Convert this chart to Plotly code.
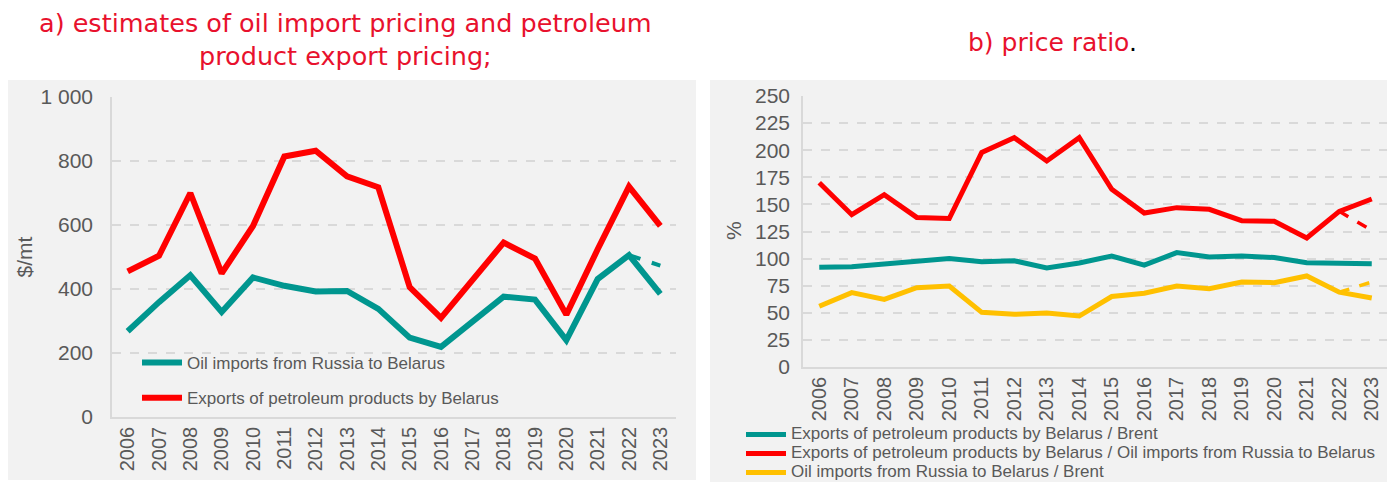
import plotly.graph_objects as go

years = [str(y) for y in range(2006, 2024)]

# Panel a) $/mt
oil_imports = [268, 359, 443, 328, 436, 410, 392, 394, 338, 248, 219, 296, 376, 367, 240, 431, 506, 385]
exports_pp = [455, 504, 700, 449, 597, 814, 832, 752, 718, 406, 310, 428, 545, 495, 320, 524, 720, 597]
oil_imports_alt = [506, 473]  # 2022-2023 alternative estimate (dashed)

# Panel b) %
ratio_exp_brent = [92, 92.5, 95, 97.5, 100, 97, 98, 91.3, 96, 102.4, 94, 105.5, 101.5, 102.4, 101, 96.2, 95.3, 95.3]
ratio_exp_imp = [170, 140.5, 159, 138, 137, 198, 211.6, 190, 211.6, 164, 142, 147, 145.5, 135, 134.4, 119, 143.6, 155]
ratio_imp_brent = [56, 68.6, 62.4, 73.2, 74.7, 50.4, 48.6, 49.8, 47, 65, 68, 74.7, 72.3, 78.4, 77.8, 84, 69, 63.7]
ratio_exp_imp_alt = [143.6, 126]
ratio_imp_brent_alt = [69, 78.4]
alt_years = ["2022", "2023"]

names_b = ["Exports of petroleum products by Belarus / Brent",
           "Exports of petroleum products by Belarus / Oil imports from Russia to Belarus",
           "Oil imports from Russia to Belarus / Brent"]

TEAL = "#00968F"
RED = "#FF0000"
YELLOW = "#FFC000"
GRAY_TXT = "#595959"
GRID = "#D9D9D9"
TITLE_RED = "#E8112D"
TICKFONT = "Liberation Sans Narrow, Liberation Sans, sans-serif"
TITLEFONT = "DejaVu Sans"

def big(t):
    return "<span style='font-size:17px'>" + t + "</span>"

fig = go.Figure()

fig.add_trace(go.Scatter(x=years, y=oil_imports, mode="lines", name="Oil imports from Russia to Belarus",
                         line=dict(color=TEAL, width=6), xaxis="x", yaxis="y", legend="legend", legendgroup="a1"))
fig.add_trace(go.Scatter(x=years, y=exports_pp, mode="lines", name="Exports of petroleum products by Belarus",
                         line=dict(color=RED, width=6), xaxis="x", yaxis="y", legend="legend", legendgroup="a2"))
fig.add_trace(go.Scatter(x=alt_years, y=oil_imports_alt, mode="lines", showlegend=False,
                         line=dict(color=TEAL, width=4, dash="dash"), xaxis="x", yaxis="y"))

fig.add_trace(go.Scatter(x=years, y=ratio_exp_brent, mode="lines", name=big(names_b[0]),
                         line=dict(color=TEAL, width=5), xaxis="x2", yaxis="y2", legend="legend2"))
fig.add_trace(go.Scatter(x=years, y=ratio_exp_imp, mode="lines", name=big(names_b[1]),
                         line=dict(color=RED, width=5), xaxis="x2", yaxis="y2", legend="legend2"))
fig.add_trace(go.Scatter(x=years, y=ratio_imp_brent, mode="lines", name=big(names_b[2]),
                         line=dict(color=YELLOW, width=5), xaxis="x2", yaxis="y2", legend="legend2"))
fig.add_trace(go.Scatter(x=alt_years, y=ratio_exp_imp_alt, mode="lines", showlegend=False,
                         line=dict(color=RED, width=3.5, dash="dash"), xaxis="x2", yaxis="y2"))
fig.add_trace(go.Scatter(x=alt_years, y=ratio_imp_brent_alt, mode="lines", showlegend=False,
                         line=dict(color=YELLOW, width=3.5, dash="dash"), xaxis="x2", yaxis="y2"))

# page body has an 8px margin, so the figure is drawn offset by 8px
OFF = 8
W, H = 1395 - OFF, 482 - OFF

def px(x):
    return (x - OFF) / W

def py(y):
    return 1 - (y - OFF) / H

xcommon = dict(type="category", range=[-0.5, 17.5], tickangle=-90, showline=True, linecolor=GRID,
               linewidth=1.5, showgrid=False, ticks="", tickfont=dict(family=TICKFONT, size=20, color=GRAY_TXT),
               fixedrange=True, automargin=False)
ycommon = dict(showline=True, linecolor=GRID, linewidth=1.5, showgrid=True, gridcolor=GRID, griddash="dash",
               gridwidth=1.5, zeroline=False, ticks="", tickfont=dict(family=TICKFONT, size=21, color=GRAY_TXT),
               automargin=False)

fig.update_layout(
    width=W, height=H,
    margin=dict(l=0, r=0, t=0, b=0, autoexpand=False),
    paper_bgcolor="white",
    plot_bgcolor="rgba(0,0,0,0)",
    separators=". ",
    xaxis=dict(domain=[px(112), px(676)], anchor="y", **xcommon),
    yaxis=dict(domain=[py(417), py(97)], anchor="x", range=[0, 1000], dtick=200, tickformat=",d",
               ticklabelstandoff=13,
               title=dict(text="$/mt", font=dict(family=TICKFONT, size=21, color=GRAY_TXT), standoff=2),
               **ycommon),
    xaxis2=dict(domain=[px(803), px(1388)], anchor="y2", **xcommon),
    yaxis2=dict(domain=[py(367), py(96)], anchor="x2", range=[0, 250], dtick=25, ticklabelstandoff=7,
                **ycommon),
    legend=dict(x=px(137), y=py(345), xanchor="left", yanchor="top", bgcolor="rgba(0,0,0,0)",
                font=dict(family=TICKFONT, size=17, color=GRAY_TXT), tracegroupgap=10, itemwidth=40),
    legend2=dict(x=px(741), y=py(420), xanchor="left", yanchor="top", bgcolor="rgba(0,0,0,0)",
                 font=dict(family=TICKFONT, size=12, color=GRAY_TXT), tracegroupgap=0, itemwidth=40),
    shapes=[
        dict(type="rect", xref="paper", yref="paper", x0=px(8), x1=px(696), y0=py(480), y1=py(80),
             fillcolor="#F2F2F2", line=dict(width=0), layer="below"),
        dict(type="rect", xref="paper", yref="paper", x0=px(710), x1=1, y0=0, y1=py(80),
             fillcolor="#F2F2F2", line=dict(width=0), layer="below"),
    ],
    annotations=[
        dict(text="a) estimates of oil import pricing and petroleum<br>product export pricing;",
             xref="paper", yref="paper", x=px(345), y=py(40), xanchor="center", yanchor="middle",
             showarrow=False, borderpad=0, font=dict(family=TITLEFONT, size=25.5, color=TITLE_RED)),
        dict(text="b) price ratio<span style='color:black'>.</span>",
             xref="paper", yref="paper", x=px(1052), y=py(42), xanchor="center", yanchor="middle",
             showarrow=False, font=dict(family=TITLEFONT, size=25, color=TITLE_RED)),
        dict(text="%", textangle=-90, xref="paper", yref="paper", x=px(733), y=py(231),
             xanchor="center", yanchor="middle", showarrow=False,
             font=dict(family=TICKFONT, size=21, color=GRAY_TXT)),
    ],
)

fig.write_html("out.html")
